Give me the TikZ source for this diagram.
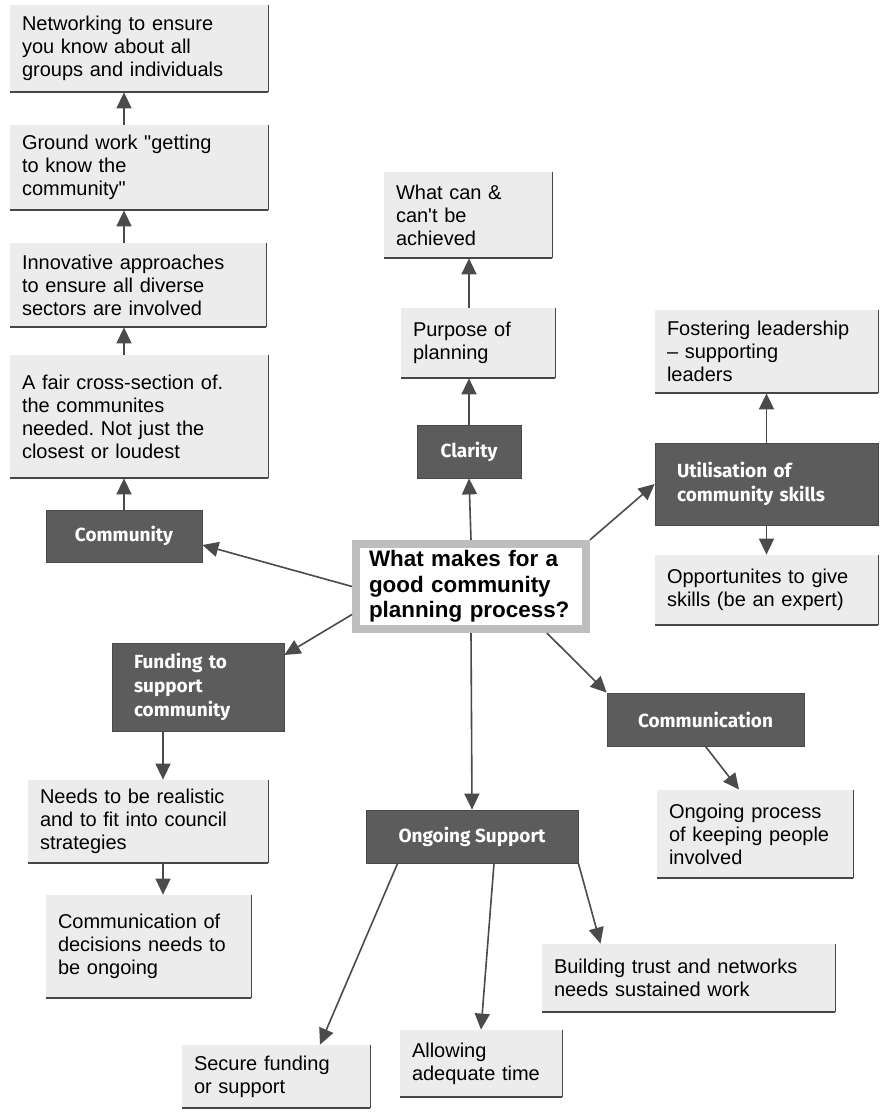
\documentclass[tikz,border=0pt]{standalone}
\usepackage{fontspec}
\setmainfont{Liberation Sans}[Ligatures=TeXOff]
\newfontfamily\catfont{Fira Sans}
\usetikzlibrary{arrows.meta, positioning}
\definecolor{greyBox}{RGB}{92, 92, 92}
\definecolor{greyPale}{RGB}{236, 236, 236}
\definecolor{greyEdge}{RGB}{70, 70, 70}
\definecolor{greyFrame}{RGB}{190, 190, 190}
\definecolor{greyArrow}{RGB}{75, 75, 75}
\frenchspacing

\begin{document}
\begin{tikzpicture}[x=0.5pt, y=-0.5pt,
  leaf/.style 2 args={rectangle, fill=greyPale, text width=#1,
    minimum height=#2, inner xsep=6pt, inner ysep=2pt, align=left,
    font=\fontsize{10}{11.5}\selectfont},
  catbox/.style={rectangle, fill=greyBox, draw=greyBox!80!black,
    text=white, inner xsep=11pt, align=left,
    font=\catfont\bfseries\fontsize{9.5}{12}\selectfont},
  hub/.style={rectangle, fill=white, draw=greyFrame, line width=4pt,
    text width=102pt, minimum height=39.5pt, inner xsep=6.5pt,
    align=left, font=\bfseries\fontsize{11.2}{12.75}\selectfont},
  arr/.style={-{Triangle[length=8pt, width=7.5pt]}, draw=greyArrow,
    line width=0.8pt},
  rim/.style={draw=greyEdge, line width=0.6pt},
]
\fill[white] (0,0) rectangle (890,1113);
\useasboundingbox (0,0) rectangle (890,1113);

\node[leaf={117pt}{43.5pt}] (network) at (139,48.5)
  {Networking to ensure\\you know about all\\groups and individuals};
\node[leaf={117pt}{42.5pt}] (groundwork) at (139,167.5)
  {Ground work "getting\\to know the\\community"};
\node[leaf={116pt}{42pt}] (innovate) at (138,285)
  {Innovative approaches\\to ensure all diverse\\sectors are involved};
\node[leaf={117pt}{61.5pt}] (crosssec) at (139,416.5)
  {A fair cross-section of.\\the communites\\needed. Not just the\\closest or loudest};
\node[catbox, minimum width=78pt, minimum height=26pt] (community)
  at (124,536) {Community};

\node[leaf={72pt}{43pt}] (achieve) at (468,215)
  {What can \&\\can't be\\achieved};
\node[leaf={65pt}{35pt}] (purpose) at (478,343) {Purpose of\\planning};
\node[catbox, minimum width=52pt, minimum height=26.5pt] (clarity)
  at (469,451.5) {Clarity};

\node[leaf={99.5pt}{41.5pt}] (leader) at (766.5,351.5)
  {Fostering leadership\\– supporting\\leaders};
\node[catbox, text width=89.5pt, minimum height=41pt] (skills)
  at (766.5,484) {Utilisation of\\community skills};
\node[leaf={99.5pt}{35pt}] (expert) at (766.5,590)
  {Opportunites to give\\skills (be an expert)};

\node[hub] (question) at (471,586.5)
  {What makes for a\\good community\\planning process?};

\node[catbox, text width=64pt, minimum height=44pt] (funding)
  at (198,687) {Funding to\\support\\community};
\node[leaf={108pt}{41.5pt}] (realistic) at (148,821.5)
  {Needs to be realistic\\and to fit into council\\strategies};
\node[leaf={90.5pt}{51.5pt}] (decisions) at (148.5,946.5)
  {Communication of\\decisions needs to\\be ongoing};

\node[catbox, minimum width=98.5pt, minimum height=26.5pt] (communic)
  at (705.5,719.5) {Communication};
\node[leaf={86pt}{44pt}] (keeping) at (755,834)
  {Ongoing process\\of keeping people\\involved};

\node[catbox, minimum width=106pt, minimum height=26.5pt] (support)
  at (472,836.5) {Ongoing Support};
\node[leaf={134.5pt}{34pt}] (trust) at (688.5,978)
  {Building trust and networks\\needs sustained work};
\node[leaf={82pt}{31.5pt}] (funds) at (276,1076.5)
  {Secure funding\\or support};
\node[leaf={69pt}{33.5pt}] (timing) at (481,1063.5)
  {Allowing\\adequate time};

\foreach \n in {network, groundwork, innovate, crosssec, achieve, purpose,
    leader, expert, realistic, decisions, keeping, trust, funds, timing} {
  \draw[rim] (\n.north east) -- (\n.south east);
  \draw[rim, line width=1pt] (\n.south east) -- (\n.south west);
}

\draw[arr] (community.north) -- (community.north |- crosssec.south);
\draw[arr] (crosssec.north -| community) -- (innovate.south -| community);
\draw[arr] (innovate.north -| community) -- (groundwork.south -| community);
\draw[arr] (groundwork.north -| community) -- (network.south -| community);
\draw[arr] (question.west) -- ([yshift=-4.5pt]community.east);
\draw[arr] ([yshift=-14pt]question.west) -- ([yshift=16pt]funding.east);

\draw[arr] (question.north) -- (clarity.south);
\draw[arr] (clarity.north) -- (clarity.north |- purpose.south);
\draw[arr] (purpose.north -| clarity) -- (achieve.south -| clarity);

\draw[arr] (question.north east) -- (skills.west);
\draw[arr] (skills.north) -- (leader.south);
\draw[arr] (skills.south) -- (expert.north);

\draw[arr] ([xshift=-17.5pt]funding.south)
  -- ([xshift=-17.5pt]funding.south |- realistic.north);
\draw[arr] ([xshift=7.5pt]realistic.south)
  -- ([xshift=7.5pt]realistic.south |- decisions.north);

\draw[arr] ([xshift=38pt]question.south) -- (communic.north west);
\draw[arr] (communic.south) -- ([xshift=-8pt]keeping.north);

\draw[arr] (question.south) -- (support.north);
\draw[arr] ([xshift=16pt]support.south west) -- ([xshift=22pt]funds.north);
\draw[arr] ([xshift=11pt]support.south) -- (timing.north);
\draw[arr] (support.south east) -- ([xshift=-44pt]trust.north);
\end{tikzpicture}
\end{document}
